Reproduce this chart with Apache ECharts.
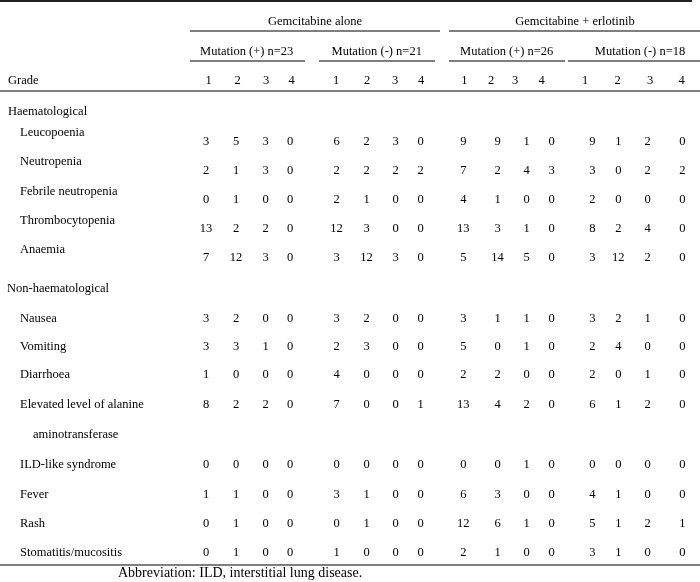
<!DOCTYPE html>
<html>
<head>
<meta charset="utf-8">
<script src="https://cdn.jsdelivr.net/npm/echarts@6/dist/echarts.min.js"></script>
<style>html,body{margin:0;padding:0;background:#fff}#c{width:700px;height:582px}</style>
</head>
<body>
<div id="c"></div>
<script>
// ---- data ----
var rowLabels = ['Leucopoenia','Neutropenia','Febrile neutropenia','Thrombocytopenia','Anaemia',
  'Nausea','Vomiting','Diarrhoea','Elevated level of alanine','ILD-like syndrome','Fever','Rash','Stomatitis/mucositis'];
var armLabels = ['Gemcitabine alone','Gemcitabine + erlotinib'];
var subgroupLabels = ['Mutation (+) n=23','Mutation (-) n=21','Mutation (+) n=26','Mutation (-) n=18'];
var gradeLabels = ['1','2','3','4'];
var gemMutPos = [[3,5,3,0],[2,1,3,0],[0,1,0,0],[13,2,2,0],[7,12,3,0],[3,2,0,0],[3,3,1,0],[1,0,0,0],[8,2,2,0],[0,0,0,0],[1,1,0,0],[0,1,0,0],[0,1,0,0]];
var gemMutNeg = [[6,2,3,0],[2,2,2,2],[2,1,0,0],[12,3,0,0],[3,12,3,0],[3,2,0,0],[2,3,0,0],[4,0,0,0],[7,0,0,1],[0,0,0,0],[3,1,0,0],[0,1,0,0],[1,0,0,0]];
var erlMutPos = [[9,9,1,0],[7,2,4,3],[4,1,0,0],[13,3,1,0],[5,14,5,0],[3,1,1,0],[5,0,1,0],[2,2,0,0],[13,4,2,0],[0,0,1,0],[6,3,0,0],[12,6,1,0],[2,1,0,0]];
var erlMutNeg = [[9,1,2,0],[3,0,2,2],[2,0,0,0],[8,2,4,0],[3,12,2,0],[3,2,1,0],[2,4,0,0],[2,0,1,0],[6,1,2,0],[0,0,0,0],[4,1,0,0],[5,1,2,1],[3,1,0,0]];

// ---- layout (positions in chart units, 1 unit = 1 px) ----
var valueColX = [[206,236,265.5,290],[336.5,366.5,395.7,420.7],[463.3,497.5,526.5,551.7],[592.3,618.3,647.7,682.3]];
var headColX = [[208.5,237.5,266,291.5],[336,367,395,421],[464.3,491,515,541.5],[585,617.5,650,681.7]];
var armX = [315,575];
var subX = [246.7,376.7,506.7,640];
var rowLabelY = [133,162,191.5,221,250,318.5,346.5,375,405,465,494.5,524,553];
var rowValueY = [141.5,171,200,229,258,318.5,346.5,375,405,465,494.5,524,553];
var font = 'Liberation Serif';
var txtColor = '#000';

var arms = [gemMutPos, gemMutNeg, erlMutPos, erlMutNeg];
var cellData = [];
arms.forEach(function(arm, g){
  arm.forEach(function(row, r){
    row.forEach(function(v, k){
      cellData.push({value:[valueColX[g][k], rowValueY[r]], name:String(v)});
    });
  });
});
var centerText = [];
armLabels.forEach(function(t,i){ centerText.push({value:[armX[i],22], name:t}); });
subgroupLabels.forEach(function(t,i){ centerText.push({value:[subX[i],51.5], name:t}); });
headColX.forEach(function(grp){ grp.forEach(function(x,k){ centerText.push({value:[x,81], name:gradeLabels[k]}); }); });

var leftText = [
  {value:[8,81], name:'Grade'},
  {value:[8,112], name:'Haematological'},
  {value:[7,288.5], name:'Non-haematological'},
  {value:[33,435], name:'aminotransferase'}
];
rowLabels.forEach(function(t,r){ leftText.push({value:[20,rowLabelY[r]], name:t}); });

var ruleColor = '#555';
var rules = [
  {coords:[[0,1],[692,1]], lineStyle:{width:2,color:'#222'}},
  {coords:[[190,31],[440,31]], lineStyle:{width:1.5,color:ruleColor}},
  {coords:[[449,31],[700,31]], lineStyle:{width:1.5,color:ruleColor}},
  {coords:[[190,61],[305,61]], lineStyle:{width:1.5,color:ruleColor}},
  {coords:[[319,61],[435,61]], lineStyle:{width:1.5,color:ruleColor}},
  {coords:[[449,61],[565,61]], lineStyle:{width:1.5,color:ruleColor}},
  {coords:[[568,61],[700,61]], lineStyle:{width:1.5,color:ruleColor}},
  {coords:[[0,90.5],[700,90.5]], lineStyle:{width:1.5,color:ruleColor}},
  {coords:[[0,565],[700,565]], lineStyle:{width:1.5,color:ruleColor}}
];

function textSeries(data, align, size){
  return {
    type:'scatter', symbolSize:0, silent:true, data:data,
    itemStyle:{color:'#fff', opacity:1},
    label:{show:true, position:'inside', align:align, verticalAlign:'middle', opacity:1,
      formatter:function(p){return p.name;}, fontFamily:font, fontSize:size||12.5, color:txtColor,
      textBorderWidth:0, textBorderColor:'transparent'}
  };
}

var chart = echarts.init(document.getElementById('c'), null, {renderer:'canvas'});
chart.setOption({
  animation:false,
  backgroundColor:'#fff',
  grid:{left:0,right:0,top:0,bottom:0},
  xAxis:{type:'value',min:0,max:700,show:false},
  yAxis:{type:'value',min:0,max:582,inverse:true,show:false},
  series:[
    {type:'lines', coordinateSystem:'cartesian2d', silent:true, data:rules, lineStyle:{opacity:1}},
    textSeries(cellData,'center'),
    textSeries(centerText,'center'),
    textSeries(leftText,'left'),
    textSeries([{value:[118,573.5], name:'Abbreviation: ILD, interstitial lung disease.'}],'left',14)
  ]
});
</script>
</body>
</html>
